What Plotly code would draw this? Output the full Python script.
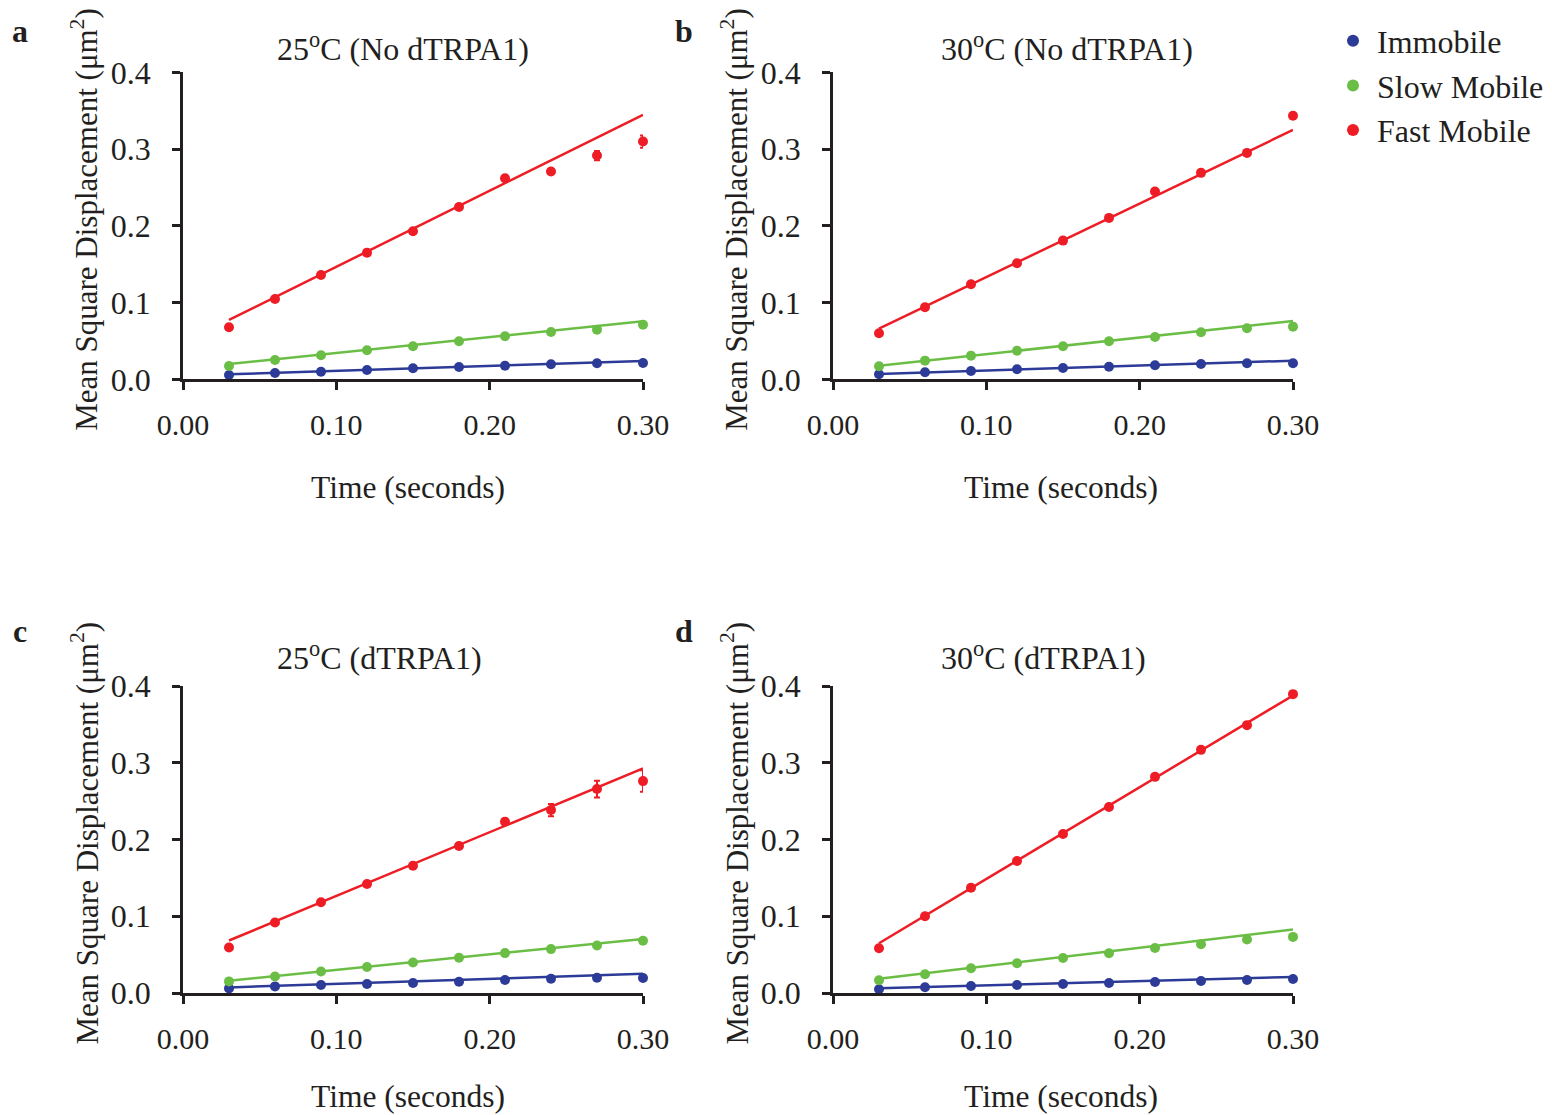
import plotly.graph_objects as go

W, H = 1552, 1115

# ---------------- data ----------------
time_s = [0.03, 0.06, 0.09, 0.12, 0.15, 0.18, 0.21, 0.24, 0.27, 0.30]

panel_names = ["a", "b", "c", "d"]
panel_titles = ["25<sup>o</sup>C (No dTRPA1)", "30<sup>o</sup>C (No dTRPA1)",
                "25<sup>o</sup>C (dTRPA1)", "30<sup>o</sup>C (dTRPA1)"]
series_names = ["Immobile", "Slow Mobile", "Fast Mobile"]
series_colors = ["#2C3B97", "#6BBE45", "#EE1D25"]

# Mean square displacement (um^2)
immobile_a = [0.0056, 0.0082, 0.0099, 0.0121, 0.0143, 0.0160, 0.0177, 0.0196, 0.0209, 0.0213]
slow_a     = [0.0173, 0.0252, 0.0313, 0.0378, 0.0430, 0.0495, 0.0560, 0.0617, 0.0647, 0.0712]
fast_a     = [0.0678, 0.1047, 0.1360, 0.1650, 0.1930, 0.2246, 0.2620, 0.2707, 0.2915, 0.3098]

immobile_b = [0.0065, 0.0091, 0.0108, 0.0130, 0.0147, 0.0164, 0.0183, 0.0200, 0.0209, 0.0209]
slow_b     = [0.0170, 0.0243, 0.0308, 0.0373, 0.0430, 0.0495, 0.0551, 0.0613, 0.0665, 0.0686]
fast_b     = [0.0600, 0.0939, 0.1239, 0.1512, 0.1807, 0.2103, 0.2446, 0.2690, 0.2950, 0.3433]

immobile_c = [0.0060, 0.0086, 0.0104, 0.0117, 0.0130, 0.0147, 0.0169, 0.0186, 0.0199, 0.0195]
slow_c     = [0.0151, 0.0216, 0.0281, 0.0338, 0.0398, 0.0459, 0.0520, 0.0572, 0.0619, 0.0680]
fast_c     = [0.0593, 0.0918, 0.1183, 0.1421, 0.1659, 0.1915, 0.2231, 0.2384, 0.2657, 0.2761]

immobile_d = [0.0048, 0.0074, 0.0091, 0.0104, 0.0117, 0.0131, 0.0144, 0.0157, 0.0170, 0.0183]
slow_d     = [0.0166, 0.0244, 0.0322, 0.0388, 0.0457, 0.0518, 0.0587, 0.0636, 0.0696, 0.0731]
fast_d     = [0.0584, 0.1001, 0.1371, 0.1719, 0.2072, 0.2424, 0.2816, 0.3168, 0.3490, 0.3894]

# error bars (SEM)
err_immobile = [0.0005] * 10
err_slow = [0.001] * 10
fast_err_a = [0.001, 0.001, 0.001, 0.001, 0.001, 0.001, 0.004, 0.003, 0.006, 0.008]
fast_err_b = [0.001, 0.001, 0.001, 0.001, 0.001, 0.001, 0.003, 0.002, 0.002, 0.002]
fast_err_c = [0.001, 0.001, 0.001, 0.001, 0.001, 0.002, 0.004, 0.008, 0.011, 0.014]
fast_err_d = [0.001, 0.001, 0.001, 0.001, 0.001, 0.001, 0.002, 0.002, 0.003, 0.002]

# linear fits: slope (um^2/s), intercept (um^2)
fit_slope_a = [0.0644, 0.206, 0.990]
fit_int_a   = [0.0046, 0.0137, 0.0476]
fit_slope_b = [0.064, 0.2156, 0.959]
fit_int_b   = [0.0051, 0.0113, 0.0372]
fit_slope_c = [0.066, 0.202, 0.830]
fit_int_c   = [0.0053, 0.0099, 0.0435]
fit_slope_d = [0.0548, 0.237, 1.1956]
fit_int_d   = [0.0045, 0.0116, 0.0290]

x_ticks = [0.0, 0.1, 0.2, 0.3]
y_ticks = [0.0, 0.1, 0.2, 0.3, 0.4]

panels = [
    ([immobile_a, slow_a, fast_a], [err_immobile, err_slow, fast_err_a], fit_slope_a, fit_int_a),
    ([immobile_b, slow_b, fast_b], [err_immobile, err_slow, fast_err_b], fit_slope_b, fit_int_b),
    ([immobile_c, slow_c, fast_c], [err_immobile, err_slow, fast_err_c], fit_slope_c, fit_int_c),
    ([immobile_d, slow_d, fast_d], [err_immobile, err_slow, fast_err_d], fit_slope_d, fit_int_d),
]

# ---------------- layout geometry (pixels) ----------------
x_dom_px = [(183, 643), (833, 1293), (183, 643), (833, 1293)]
y_dom_px = [(72.3, 379.3), (72.3, 379.3), (686, 993), (686, 993)]

FONT = "Liberation Serif, Times New Roman, serif"
INK = "#231F20"
TXT = 32

fig = go.Figure()
layout = dict(
    template="none",
    width=W, height=H, autosize=False,
    margin=dict(l=0, r=0, t=0, b=0, pad=0, autoexpand=False),
    paper_bgcolor="white", plot_bgcolor="white",
    font=dict(family=FONT, size=30, color=INK),
    showlegend=True,
    legend=dict(x=1329 / W, y=1 - 13.5 / H, xanchor="left", yanchor="top",
                font=dict(family=FONT, size=32, color=INK),
                bgcolor="rgba(0,0,0,0)", borderwidth=0,
                tracegroupgap=0, itemsizing="constant", itemwidth=38),
)

annotations = []
for i, (series, errs, slopes, ints) in enumerate(panels):
    ax = "" if i == 0 else str(i + 1)
    xa, ya = "x" + ax, "y" + ax
    x0, x1 = x_dom_px[i]
    y0, y1 = y_dom_px[i]
    layout["xaxis" + ax] = dict(
        domain=[x0 / W, x1 / W], range=[0, 0.30], anchor=ya, automargin=False,
        showline=True, linecolor=INK, linewidth=2.5,
        ticks="outside", ticklen=8, tickwidth=2.5, tickcolor=INK,
        tickvals=x_ticks, tickformat=".2f", showgrid=False, zeroline=False,
        tickfont=dict(size=30, color=INK), ticklabelstandoff=9,
    )
    layout["yaxis" + ax] = dict(
        domain=[1 - y1 / H, 1 - y0 / H], range=[0, 0.4], anchor=xa, automargin=False,
        showline=True, linecolor=INK, linewidth=2.5,
        ticks="outside", ticklen=8, tickwidth=2.5, tickcolor=INK,
        tickvals=y_ticks, tickformat=".1f", showgrid=False, zeroline=False,
        tickfont=dict(size=32, color=INK), ticklabelstandoff=15,
    )
    for s in range(3):
        # fit line
        xs = [time_s[0], time_s[-1]]
        ys = [ints[s] + slopes[s] * t for t in xs]
        fig.add_trace(go.Scatter(
            x=xs, y=ys, mode="lines", xaxis=xa, yaxis=ya,
            line=dict(color=series_colors[s], width=2.5),
            showlegend=False, hoverinfo="skip", cliponaxis=False,
        ))
    for s in range(3):
        fig.add_trace(go.Scatter(
            x=time_s, y=series[s], mode="markers", xaxis=xa, yaxis=ya,
            name=series_names[s], legendgroup=series_names[s],
            showlegend=(i == 0),
            marker=dict(color=series_colors[s], size=10),
            error_y=dict(type="data", array=errs[s], visible=True,
                         color=series_colors[s], thickness=2, width=3),
            cliponaxis=False,
        ))
    # panel title
    tx = 275 if i % 2 == 0 else 939
    ty = 47 if i < 2 else 656
    annotations.append(dict(text=panel_titles[i], x=tx / W, y=1 - ty / H,
                            xref="paper", yref="paper", xanchor="left", yanchor="middle",
                            showarrow=False, font=dict(size=TXT)))
    # panel letter
    lx = 20 if i % 2 == 0 else 684
    ly = 31 if i < 2 else 631
    annotations.append(dict(text="<b>" + panel_names[i] + "</b>", x=lx / W, y=1 - ly / H,
                            xref="paper", yref="paper", xanchor="center", yanchor="middle",
                            showarrow=False, font=dict(size=TXT)))
    # y title
    yx = 85 if i % 2 == 0 else 735
    yc = (y0 + y1) / 2 - 6
    annotations.append(dict(text="Mean Square Displacement (μm<sup>2</sup>)", x=yx / W, y=1 - yc / H,
                            xref="paper", yref="paper", xanchor="center", yanchor="middle",
                            textangle=-90, showarrow=False, font=dict(size=31)))
    # x title
    xc = 408 if i % 2 == 0 else 1061
    xy = 487 if i < 2 else 1096
    annotations.append(dict(text="Time (seconds)", x=xc / W, y=1 - xy / H,
                            xref="paper", yref="paper", xanchor="center", yanchor="middle",
                            showarrow=False, font=dict(size=31.5)))

layout["annotations"] = annotations
fig.update_layout(**layout)
fig.write_html(
    "out.html",
    config={"displayModeBar": False},
    post_script="document.body.style.margin='0';document.body.style.overflow='hidden';",
)
